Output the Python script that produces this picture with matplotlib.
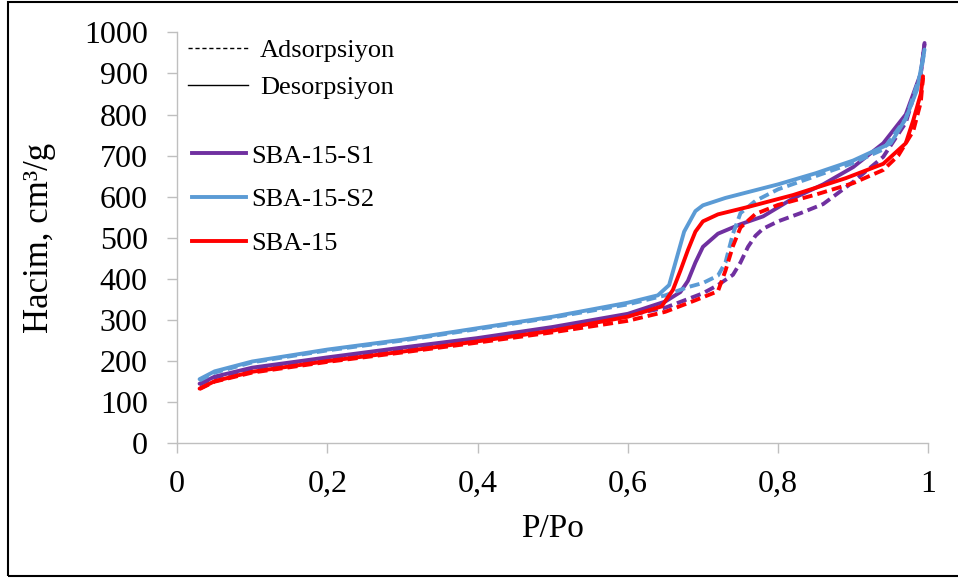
import matplotlib
matplotlib.use('Agg')
import matplotlib.pyplot as plt
from matplotlib.lines import Line2D
from matplotlib.patches import Rectangle

plt.rcParams['font.family'] = ['Liberation Serif', 'DejaVu Serif']

# SBA-15-S1 (purple)
p_s1_ads = [0.03, 0.05, 0.1, 0.2, 0.3, 0.4, 0.5, 0.6, 0.65, 0.7, 0.72, 0.74, 0.75, 0.76, 0.77,
            0.78, 0.8, 0.83, 0.86, 0.9, 0.94, 0.97, 0.99, 0.995]
v_s1_ads = [143, 160, 182, 207, 231, 254, 280, 311, 330, 365, 385, 410, 440, 478, 505,
            522, 540, 560, 582, 636, 697, 780, 900, 972]
p_s1_des = [0.03, 0.05, 0.1, 0.2, 0.3, 0.4, 0.5, 0.6, 0.65, 0.67, 0.68, 0.69, 0.70, 0.72,
            0.75, 0.78, 0.82, 0.86, 0.9, 0.94, 0.97, 0.99, 0.995]
v_s1_des = [145, 162, 184, 209, 233, 256, 283, 315, 345, 368, 395, 440, 478, 510,
            533, 552, 596, 630, 672, 730, 800, 900, 974]

# SBA-15-S2 (blue)
p_s2_ads = [0.03, 0.05, 0.1, 0.2, 0.3, 0.4, 0.5, 0.6, 0.65, 0.68, 0.70, 0.72, 0.73, 0.74,
            0.75, 0.77, 0.8, 0.85, 0.9, 0.94, 0.97, 0.99, 0.995]
v_s2_ads = [153, 172, 197, 226, 250, 278, 306, 338, 360, 380, 390, 408, 440, 510,
            560, 590, 618, 650, 682, 715, 790, 900, 956]
p_s2_des = [0.03, 0.05, 0.1, 0.2, 0.3, 0.4, 0.5, 0.6, 0.64, 0.655, 0.665, 0.675, 0.69, 0.70,
            0.73, 0.8, 0.85, 0.9, 0.95, 0.97, 0.985, 0.995]
v_s2_des = [156, 175, 199, 228, 252, 280, 308, 342, 360, 385, 450, 515, 565, 579,
            597, 630, 657, 688, 730, 790, 860, 958]

# SBA-15 (red)
p_s0_ads = [0.03, 0.05, 0.1, 0.2, 0.3, 0.4, 0.5, 0.6, 0.65, 0.69, 0.72, 0.73, 0.74, 0.75,
            0.77, 0.8, 0.85, 0.9, 0.94, 0.96, 0.98, 0.99, 0.993]
v_s0_ads = [132, 150, 172, 198, 221, 245, 270, 298, 320, 348, 370, 420, 480, 525,
            558, 580, 605, 633, 665, 700, 760, 830, 890]
p_s0_des = [0.03, 0.05, 0.1, 0.2, 0.3, 0.4, 0.5, 0.6, 0.645, 0.66, 0.67, 0.68, 0.69, 0.70,
            0.72, 0.76, 0.82, 0.89, 0.94, 0.97, 0.98, 0.99, 0.993]
v_s0_des = [133, 151, 174, 200, 223, 248, 274, 308, 333, 373, 420, 470, 515, 540,
            557, 575, 604, 645, 680, 730, 786, 850, 893]

names = ['SBA-15-S1', 'SBA-15-S2', 'SBA-15']
colors = ['#7030A0', '#5B9BD5', '#FF0000']
x_ticks = [0, 0.2, 0.4, 0.6, 0.8, 1]
x_labels = ['0', '0,2', '0,4', '0,6', '0,8', '1']
y_ticks = list(range(0, 1001, 100))

series = [
    (p_s1_ads, v_s1_ads, p_s1_des, v_s1_des),
    (p_s2_ads, v_s2_ads, p_s2_des, v_s2_des),
    (p_s0_ads, v_s0_ads, p_s0_des, v_s0_des),
]

fig = plt.figure(figsize=(9.58, 5.79), dpi=100)
ax = fig.add_axes([0.1848, 0.2344, 0.7842, 0.7098])

lw = 2.8
for (pa, va, pd_, vd), c in zip(series, colors):
    ax.plot(pa, va, color=c, lw=lw, ls=(0, (2.6, 1.3)), dash_capstyle='butt', solid_capstyle='round')
    ax.plot(pd_, vd, color=c, lw=lw, solid_capstyle='round')

ax.set_xlim(0, 1)
ax.set_ylim(0, 1000)
ax.set_xticks(x_ticks)
ax.set_xticklabels(x_labels)
ax.set_yticks(y_ticks)

grey = '#BFBFBF'
for s in ['top', 'right']:
    ax.spines[s].set_visible(False)
for s in ['left', 'bottom']:
    ax.spines[s].set_color(grey)
    ax.spines[s].set_linewidth(1.0)
ax.tick_params(axis='both', direction='out', length=7, width=1.0, color=grey,
               labelsize=23)
ax.tick_params(axis='y', pad=14)
ax.tick_params(axis='x', pad=12)

ax.set_xlabel('P/Po', fontsize=24, labelpad=11)
ax.set_ylabel('Hacim, cm³/g', fontsize=25, labelpad=20)

# legends: line style and sample colour
style_handles = [Line2D([], [], color='black', lw=1.0, ls=(0, (3, 2))),
                 Line2D([], [], color='black', lw=1.0)]
leg1 = ax.legend(style_handles, ['Adsorpsiyon', 'Desorpsiyon'], loc='upper left',
                 bbox_to_anchor=(0.014, 0.985), frameon=False, fontsize=19,
                 handlelength=2.3, handletextpad=0.45, labelspacing=0.52,
                 borderpad=0, borderaxespad=0)
ax.add_artist(leg1)
color_handles = [Line2D([], [], color=c, lw=lw) for c in colors]
ax.legend(color_handles, names, loc='upper left', bbox_to_anchor=(0.02, 0.728),
          frameon=False, fontsize=19, handlelength=2.05, handletextpad=0.2,
          labelspacing=0.77, borderpad=0, borderaxespad=0)

# outer frame
fig.patches.append(Rectangle((7.5 / 958, 1 - 576 / 579), 960 / 958, 574 / 579,
                             transform=fig.transFigure, fill=False, lw=1.5,
                             edgecolor='black'))

fig.savefig('out.png', dpi=100)
